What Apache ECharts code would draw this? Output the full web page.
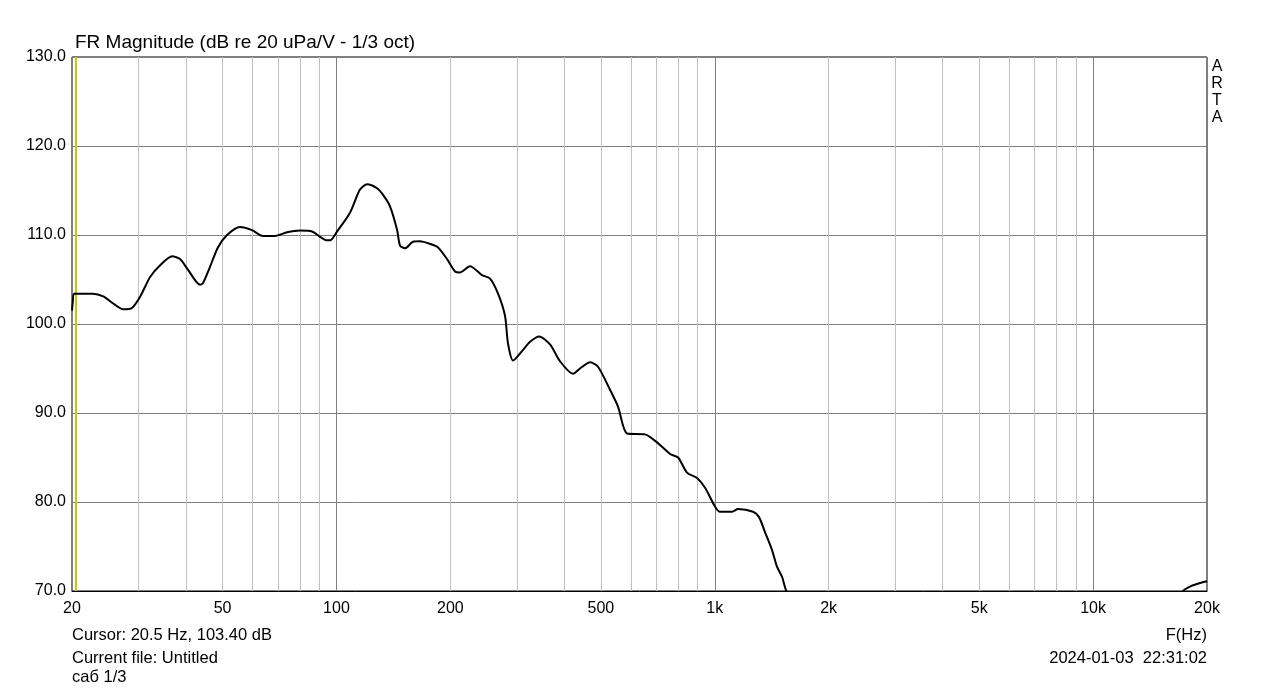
<!DOCTYPE html>
<html>
<head>
<meta charset="utf-8">
<script src="https://cdn.jsdelivr.net/npm/echarts@6/dist/echarts.min.js"></script>
<style>
html,body{margin:0;padding:0;background:#fff;}
#chart{width:1279px;height:699px;}
</style>
</head>
<body>
<div id="chart"></div>
<script>
// ---- data ----
const freqs = [20, 20.1, 20.24, 22.7, 24.2, 25.7, 27.3, 28.8, 30.3, 32.2, 34.2, 36.8, 38.6, 40.5, 43.6, 44.4, 46.3, 48.6, 51.4, 55.6, 59.8, 63.9, 68.8, 74.0, 80.1, 86.2, 90.5, 94.4, 96.2, 100.4, 108.6, 115.4, 120.5, 128, 132.8, 138.6, 144.6, 147.3, 151.8, 159.4, 166.3, 176.8, 185.6, 196, 205.8, 212.1, 225.5, 242.5, 254.7, 267.4, 279, 284.1, 292.9, 311.3, 324.9, 343.2, 366.9, 390, 422.1, 440.4, 468, 491.4, 528.8, 555.2, 586.5, 654.3, 703.7, 761.7, 799.8, 844.8, 897.7, 942.6, 1001, 1032, 1111, 1152, 1262, 1309, 1358, 1417, 1461, 1506, 1543, 1700, 2500, 5000, 10000, 15000, 17292, 18266, 19180, 20000];
const magnitudes = [101.5, 102.5, 103.4, 103.4, 103.1, 102.3, 101.65, 101.8, 103.1, 105.3, 106.6, 107.6, 107.3, 106.1, 104.4, 104.6, 106.4, 108.6, 110.0, 110.9, 110.55, 109.9, 109.9, 110.3, 110.5, 110.4, 109.8, 109.4, 109.4, 110.4, 112.5, 115.1, 115.7, 115.25, 114.5, 113.2, 110.6, 108.8, 108.5, 109.25, 109.3, 109.0, 108.6, 107.3, 105.9, 105.8, 106.5, 105.5, 105.1, 103.4, 100.9, 97.8, 95.9, 97.1, 98.0, 98.6, 97.7, 95.8, 94.4, 95.0, 95.7, 95.2, 92.6, 90.7, 87.7, 87.6, 86.7, 85.4, 85.0, 83.3, 82.7, 81.6, 79.5, 78.9, 78.9, 79.2, 78.9, 78.3, 76.6, 74.6, 72.7, 71.6, 70.1, 67, 62, 58, 62, 67, 70.0, 70.6, 70.9, 71.1];
const xTickLabels = [20, 50, 100, 200, 500, 1000, 2000, 5000, 10000, 20000];
const minorGrid = [30, 40, 50, 60, 70, 80, 90, 200, 300, 400, 500, 600, 700, 800, 900, 2000, 3000, 4000, 5000, 6000, 7000, 8000, 9000];
const majorGrid = [100, 1000, 10000];
const cursorFreq = 20.5;
const cursorDb = 103.40;
const titleText = 'FR Magnitude (dB re 20 uPa/V - 1/3 oct)';
const fileText = 'Current file: Untitled';
const noteText = 'саб 1/3';
const dateText = '2024-01-03  22:31:02';

const FONT = '"Liberation Sans", Arial, sans-serif';
const chart = echarts.init(document.getElementById('chart'), null, {renderer: 'canvas'});

const markData = [];
minorGrid.forEach(f => markData.push({xAxis: f, lineStyle: {color: '#c0c0c0', width: 1, type: 'solid'}}));
majorGrid.forEach(f => markData.push({xAxis: f, lineStyle: {color: '#808080', width: 1, type: 'solid'}}));
markData.push({xAxis: cursorFreq, lineStyle: {color: '#c8c800', width: 2, type: 'solid'}});

function fmtHz(v) {
  return v >= 1000 ? (v / 1000) + 'k' : String(v);
}

const option = {
  animation: false,
  backgroundColor: '#fff',
  grid: {left: 72, right: 72, top: 57, bottom: 108, show: true, borderColor: '#000', borderWidth: 1, backgroundColor: 'transparent'},
  xAxis: {
    type: 'log', logBase: 10, min: 20, max: 20000,
    axisLine: {show: true, lineStyle: {color: '#000', width: 1}},
    axisTick: {show: false},
    splitLine: {show: false},
    minorTick: {show: false},
    axisLabel: {
      customValues: xTickLabels,
      formatter: v => fmtHz(v),
      color: '#000', fontSize: 16, fontFamily: FONT, margin: 10,
      showMinLabel: true, showMaxLabel: true
    }
  },
  yAxis: {
    type: 'value', min: 70, max: 130, interval: 10,
    axisLine: {show: false}, axisTick: {show: false},
    splitLine: {show: true, lineStyle: {color: '#808080', width: 1}},
    axisLabel: {formatter: v => v.toFixed(1), color: '#000', fontSize: 16, fontFamily: FONT, margin: 6}
  },
  series: [{
    type: 'line',
    data: freqs.map((f, i) => [f, magnitudes[i]]),
    showSymbol: false, symbol: 'none', smooth: 0.25,
    clip: true,
    lineStyle: {color: '#000', width: 2},
    z: 5,
    markLine: {
      silent: true, symbol: ['none', 'none'], label: {show: false},
      animation: false,
      data: markData,
      z: 1
    }
  }],
  graphic: [
    {type: 'text', x: 75, y: 43, style: {text: titleText, font: '19px ' + FONT, fill: '#000', verticalAlign: 'middle'}},
    {type: 'text', x: 72, y: 635, style: {text: 'Cursor: ' + cursorFreq + ' Hz, ' + cursorDb.toFixed(2) + ' dB', font: '16.5px ' + FONT, fill: '#000', verticalAlign: 'middle'}},
    {type: 'text', x: 72, y: 658, style: {text: fileText, font: '16.5px ' + FONT, fill: '#000', verticalAlign: 'middle'}},
    {type: 'text', x: 72, y: 677, style: {text: noteText, font: '16.5px ' + FONT, fill: '#000', verticalAlign: 'middle'}},
    {type: 'text', x: 1207, y: 635, style: {text: 'F(Hz)', font: '16.5px ' + FONT, fill: '#000', align: 'right', verticalAlign: 'middle'}},
    {type: 'text', x: 1207, y: 658, style: {text: dateText, font: '16.5px ' + FONT, fill: '#000', align: 'right', verticalAlign: 'middle'}},
    {type: 'text', x: 1217, y: 67, style: {text: 'A', font: '16px ' + FONT, fill: '#000', align: 'center', verticalAlign: 'middle'}},
    {type: 'text', x: 1217, y: 84, style: {text: 'R', font: '16px ' + FONT, fill: '#000', align: 'center', verticalAlign: 'middle'}},
    {type: 'text', x: 1217, y: 101, style: {text: 'T', font: '16px ' + FONT, fill: '#000', align: 'center', verticalAlign: 'middle'}},
    {type: 'text', x: 1217, y: 118, style: {text: 'A', font: '16px ' + FONT, fill: '#000', align: 'center', verticalAlign: 'middle'}}
  ]
};
chart.setOption(option);
</script>
</body>
</html>
